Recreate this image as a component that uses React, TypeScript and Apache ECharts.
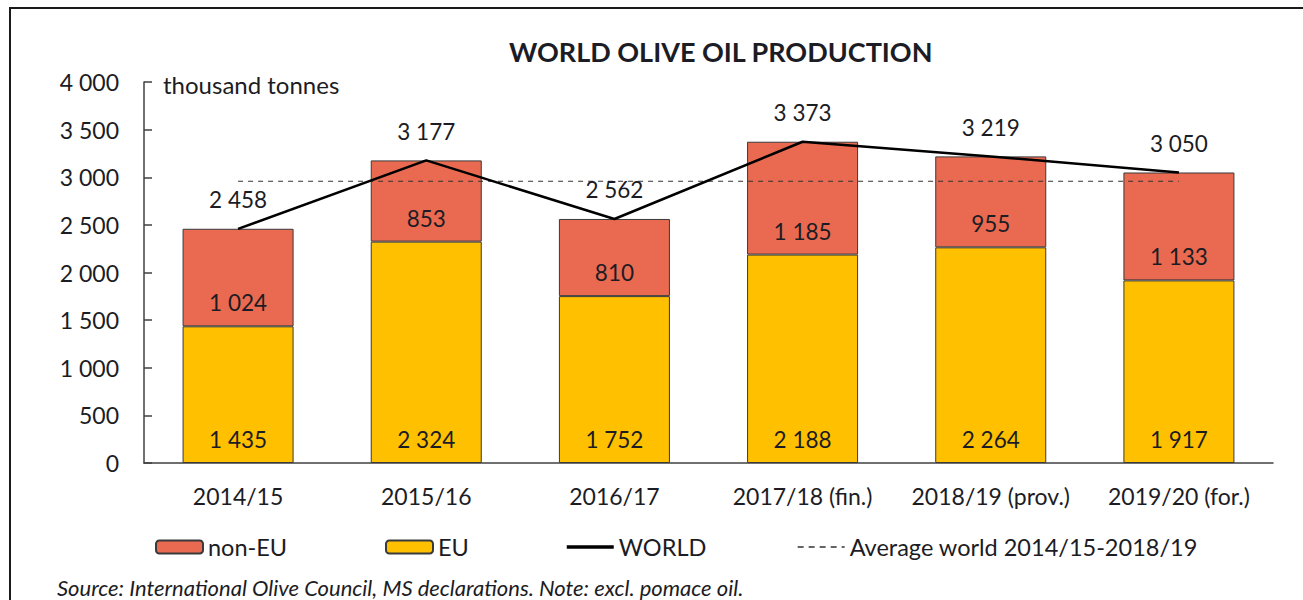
import React, { useEffect, useRef } from 'react';
import * as echarts from 'echarts';

const categories = ['2014/15', '2015/16', '2016/17', '2017/18 (fin.)', '2018/19 (prov.)', '2019/20 (for.)'];
const euValues = [1435, 2324, 1752, 2188, 2264, 1917];
const nonEuValues = [1024, 853, 810, 1185, 955, 1133];
const worldValues = [2458, 3177, 2562, 3373, 3219, 3050];
const averageValues = [2958, 2958, 2958, 2958, 2958, 2958];
const yMin = 0;
const yMax = 4000;
const yInterval = 500;

const FONT = 'Lato, "Open Sans", sans-serif';
const TXT = '#1c1c24';
const fmt = (v: number) => String(Math.round(v)).replace(/\B(?=(\d{3})+(?!\d))/g, ' ');

export default function App() {
  const ref = useRef<HTMLDivElement>(null);
  useEffect(() => {
    if (!ref.current) return;
    const chart = echarts.init(ref.current, undefined, { renderer: 'svg' });
    const legendBase = {
      top: 535,
      padding: 0,
      itemWidth: 47,
      itemHeight: 13,
      itemGap: 5,
      textStyle: { fontFamily: FONT, fontSize: 23.5, color: TXT },
    };
    chart.setOption({
      animation: false,
      backgroundColor: '#ffffff',
      textStyle: { fontFamily: FONT },
      title: {
        text: 'WORLD OLIVE OIL PRODUCTION',
        left: 509,
        top: 38,
        padding: 0,
        textStyle: { fontFamily: FONT, fontSize: 27, fontWeight: 'bold', color: TXT },
      },
      legend: [
        { ...legendBase, left: 155, data: ['non-EU'] },
        { ...legendBase, left: 385, data: ['EU'] },
        { ...legendBase, left: 565, data: ['WORLD'], lineStyle: { width: 3.5, color: '#000000' } },
        {
          ...legendBase,
          left: 797,
          data: ['Average world 2014/15-2018/19'],
          lineStyle: { width: 1.3, type: [6, 5], color: '#333333' },
        },
      ],
      grid: { left: 144, right: 30, top: 82, bottom: 137, containLabel: false },
      xAxis: {
        type: 'category',
        data: categories,
        axisLine: { lineStyle: { color: '#404040', width: 1.5 } },
        axisTick: { inside: true, length: 8, lineStyle: { color: '#404040', width: 1.5 } },
        axisLabel: { interval: 0, fontFamily: FONT, fontSize: 23, color: TXT, margin: 21 },
      },
      yAxis: {
        type: 'value',
        min: yMin,
        max: yMax,
        interval: yInterval,
        splitLine: { show: false },
        axisLine: { show: true, lineStyle: { color: '#404040', width: 1.5 } },
        axisTick: { show: true, inside: true, length: 8, lineStyle: { color: '#404040', width: 1.5 } },
        axisLabel: { fontFamily: FONT, fontSize: 23, color: TXT, margin: 25, formatter: (v: number) => fmt(v) },
      },
      series: [
        {
          name: 'EU',
          type: 'bar',
          stack: 'total',
          data: euValues,
          barWidth: '59%',
          itemStyle: { color: '#FFC000', borderColor: '#3a3a3a', borderWidth: 1 },
          label: {
            show: true,
            position: 'insideBottom',
            distance: 12,
            fontFamily: FONT,
            fontSize: 22.5,
            color: TXT,
            formatter: (p: any) => fmt(p.value),
          },
        },
        {
          name: 'non-EU',
          type: 'bar',
          stack: 'total',
          data: nonEuValues,
          barWidth: '59%',
          itemStyle: { color: '#E96A50', borderColor: '#3a3a3a', borderWidth: 1 },
          label: {
            show: true,
            position: 'insideBottom',
            distance: 12,
            fontFamily: FONT,
            fontSize: 22.5,
            color: TXT,
            formatter: (p: any) => fmt(p.value),
          },
        },
        {
          name: 'Average world 2014/15-2018/19',
          type: 'line',
          data: averageValues,
          symbol: 'circle',
          symbolSize: 1,
          showSymbol: true,
          z: 4,
          itemStyle: { color: 'rgba(0,0,0,0)' },
          lineStyle: { color: '#333333', width: 1.2, type: [5, 5] },
        },
        {
          name: 'WORLD',
          type: 'line',
          data: worldValues,
          symbol: 'circle',
          symbolSize: 1,
          showSymbol: true,
          z: 5,
          itemStyle: { color: 'rgba(0,0,0,0)' },
          lineStyle: { color: '#000000', width: 2.5 },
          label: {
            show: true,
            position: 'top',
            distance: 17,
            fontFamily: FONT,
            fontSize: 22.5,
            color: TXT,
            formatter: (p: any) => fmt(p.value),
          },
        },
      ],
      graphic: [
        {
          type: 'rect',
          shape: { x: 10, y: 8, width: 1400, height: 700 },
          style: { fill: 'none', stroke: '#1a1a1a', lineWidth: 2 },
          silent: true,
        },
        {
          type: 'text',
          x: 163,
          y: 84,
          style: {
            text: 'thousand tonnes',
            font: `24px ${FONT}`,
            fill: TXT,
            textVerticalAlign: 'middle',
          },
        },
        {
          type: 'text',
          x: 57,
          y: 587,
          style: {
            text: 'Source: International Olive Council, MS declarations. Note: excl. pomace oil.',
            font: `italic 22px ${FONT}`,
            fill: TXT,
            textVerticalAlign: 'middle',
          },
        },
      ],
    });
    return () => chart.dispose();
  }, []);
  return <div ref={ref} style={{ position: 'fixed', left: 0, top: 0, width: 1303, height: 600 }} />;
}
